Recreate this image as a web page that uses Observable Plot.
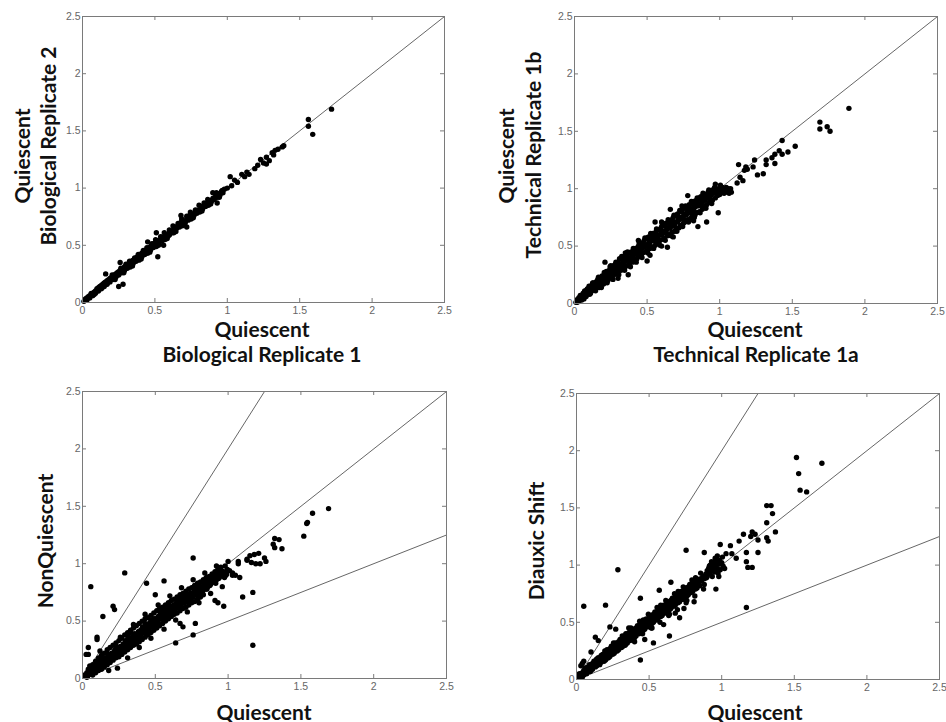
<!DOCTYPE html>
<html><head><meta charset="utf-8">
<script src="https://cdn.jsdelivr.net/npm/d3@7"></script>
<script src="https://cdn.jsdelivr.net/npm/@observablehq/plot@0.6"></script>
<style>
body{margin:0;background:#fff}
#c{position:relative;width:946px;height:722px;overflow:hidden;background:#fff}
.p{position:absolute}
.lab{position:absolute;font-family:Lato,"Open Sans",sans-serif;font-weight:700;font-size:21px;white-space:nowrap;color:#111;transform:translate(-50%,-50%);line-height:1}
.v{transform:translate(-50%,-50%) rotate(-90deg)}
</style></head><body><div id="c"></div>
<script>
// ---------- data ----------
const ticks = [0, 0.5, 1, 1.5, 2, 2.5];
const tickLabels = ["0", "0.5", "1", "1.5", "2", "2.5"];

const slopesTop = [1];
const slopesBottom = [2, 1, 0.5];

const bioRep = [
[0.01,0.01],[0.02,0.02],[0.02,0.03],[0.03,0.02],[0.03,0.04],[0.04,0.04],[0.04,0.05],[0.05,0.04],[0.05,0.06],[0.06,0.06],[0.06,0.08],[0.07,0.06],[0.07,0.08],[0.08,0.09],[0.08,0.07],[0.09,0.10],[0.09,0.08],[0.10,0.11],[0.10,0.12],[0.11,0.10],[0.11,0.13],[0.12,0.12],[0.12,0.14],[0.13,0.12],[0.13,0.15],[0.14,0.14],[0.14,0.16],[0.15,0.14],[0.15,0.17],[0.16,0.16],[0.16,0.18],[0.17,0.16],[0.17,0.19],[0.18,0.18],[0.18,0.20],[0.19,0.18],[0.19,0.21],[0.20,0.20],[0.20,0.22],[0.21,0.20],[0.21,0.23],[0.22,0.22],[0.22,0.24],[0.23,0.22],[0.23,0.25],[0.24,0.24],[0.24,0.26],[0.25,0.24],[0.25,0.27],[0.26,0.26],[0.26,0.28],[0.27,0.26],[0.27,0.29],[0.28,0.28],[0.28,0.30],[0.29,0.28],[0.29,0.31],[0.30,0.30],[0.30,0.32],[0.31,0.30],[0.31,0.33],[0.32,0.32],[0.32,0.34],[0.33,0.32],[0.33,0.35],[0.34,0.34],[0.34,0.36],[0.35,0.34],[0.35,0.37],[0.36,0.36],[0.36,0.38],[0.37,0.36],[0.37,0.39],[0.38,0.38],[0.38,0.40],[0.39,0.38],[0.39,0.41],[0.40,0.40],[0.40,0.42],[0.41,0.40],[0.41,0.43],[0.42,0.42],[0.42,0.44],[0.43,0.42],[0.43,0.45],[0.44,0.44],[0.44,0.46],[0.45,0.44],[0.45,0.47],[0.46,0.46],[0.46,0.48],[0.47,0.46],[0.47,0.49],[0.48,0.48],[0.48,0.50],[0.49,0.48],[0.49,0.51],[0.50,0.50],[0.50,0.52],[0.51,0.50],[0.51,0.53],[0.52,0.52],[0.52,0.54],[0.53,0.52],[0.54,0.55],[0.55,0.54],[0.55,0.57],[0.56,0.56],[0.57,0.58],[0.57,0.56],[0.58,0.59],[0.59,0.58],[0.60,0.61],[0.60,0.59],[0.61,0.62],[0.62,0.61],[0.63,0.64],[0.64,0.63],[0.64,0.66],[0.65,0.65],[0.66,0.67],[0.67,0.66],[0.68,0.70],[0.69,0.68],[0.70,0.71],[0.71,0.70],[0.72,0.73],[0.73,0.72],[0.74,0.76],[0.75,0.74],[0.76,0.77],[0.77,0.76],[0.78,0.80],[0.79,0.78],[0.80,0.81],[0.81,0.80],[0.82,0.84],[0.83,0.82],[0.84,0.85],[0.85,0.84],[0.86,0.87],[0.87,0.86],[0.88,0.89],[0.89,0.88],[0.90,0.91],[0.91,0.90],[0.92,0.94],[0.93,0.92],[0.94,0.95],[0.95,0.94],[0.96,0.97],[0.97,0.96],[0.98,0.99],[1.00,1.00],
[0.16,0.25],[0.25,0.14],[0.28,0.16],[0.26,0.35],[0.52,0.40],[0.51,0.61],[0.45,0.53],[0.56,0.50],[0.68,0.76],[0.72,0.66],[0.90,0.96],[0.93,0.87],
[1.02,1.10],[1.03,1.02],[1.05,1.07],[1.07,1.05],[1.10,1.12],[1.12,1.10],[1.135,1.14],[1.15,1.12],[1.19,1.17],[1.21,1.20],[1.23,1.25],[1.25,1.22],[1.27,1.27],[1.27,1.21],[1.29,1.24],[1.31,1.31],[1.33,1.33],[1.32,1.29],[1.35,1.34],[1.38,1.36],[1.39,1.37],[1.56,1.60],[1.56,1.54],[1.59,1.47],[1.72,1.69]
];
const bioRepDense = [
[0.205,0.24],[0.225,0.20],[0.265,0.30],[0.285,0.26],[0.325,0.36],[0.345,0.32],[0.385,0.42],[0.405,0.38],[0.445,0.48],[0.465,0.44],[0.505,0.55],[0.525,0.50],[0.565,0.61],[0.585,0.56],[0.625,0.67],[0.645,0.62],[0.685,0.73],[0.705,0.68],[0.745,0.79],[0.765,0.74],[0.805,0.85],[0.825,0.80],[0.865,0.90],[0.885,0.86],[0.925,0.96],[0.945,0.92],
[0.115,0.13],[0.135,0.13],[0.155,0.17],[0.175,0.18],[0.195,0.21],[0.245,0.25],[0.305,0.31],[0.365,0.37],[0.425,0.43],[0.485,0.49],[0.545,0.56],[0.605,0.61],[0.665,0.67],[0.725,0.73],[0.785,0.79],[0.845,0.86],[0.905,0.91],[0.965,0.98],
[0.30,0.335],[0.36,0.39],[0.42,0.455],[0.48,0.515],[0.54,0.575],[0.60,0.635],[0.66,0.69],[0.72,0.755],[0.78,0.81],[0.84,0.87],[0.33,0.31],[0.39,0.37],[0.45,0.43],[0.51,0.49],[0.57,0.55],[0.63,0.61],[0.69,0.67],[0.75,0.73],[0.81,0.79],[0.87,0.85]
];

const techRep = [
[0.01,0.01],[0.02,0.03],[0.02,0.01],[0.03,0.05],[0.03,0.02],[0.04,0.04],[0.04,0.07],[0.05,0.03],[0.05,0.06],[0.06,0.09],[0.06,0.05],[0.07,0.07],[0.07,0.11],[0.08,0.06],[0.08,0.09],[0.09,0.13],[0.09,0.08],[0.10,0.10],[0.10,0.15],[0.11,0.09],[0.11,0.12],[0.12,0.16],[0.12,0.11],[0.13,0.13],[0.13,0.18],[0.14,0.12],[0.14,0.15],[0.15,0.19],[0.15,0.14],[0.16,0.17],[0.16,0.21],[0.17,0.14],[0.17,0.19],[0.18,0.22],[0.18,0.16],[0.19,0.20],[0.19,0.24],[0.20,0.17],[0.20,0.22],[0.21,0.26],[0.21,0.36],[0.21,0.19],[0.22,0.23],[0.22,0.28],[0.23,0.20],[0.23,0.25],[0.24,0.29],[0.24,0.22],[0.25,0.26],[0.25,0.31],[0.26,0.23],[0.26,0.28],[0.27,0.33],[0.27,0.25],[0.28,0.29],[0.28,0.34],[0.29,0.26],[0.29,0.31],[0.30,0.36],[0.30,0.28],[0.31,0.32],[0.31,0.39],[0.32,0.29],[0.32,0.34],[0.33,0.38],[0.33,0.31],[0.34,0.36],[0.34,0.41],[0.35,0.32],[0.35,0.37],[0.36,0.42],[0.36,0.33],[0.37,0.38],[0.37,0.25],[0.38,0.44],[0.38,0.35],[0.39,0.40],[0.39,0.45],[0.40,0.36],[0.40,0.41],[0.41,0.47],[0.41,0.38],[0.42,0.43],[0.42,0.48],[0.43,0.39],[0.43,0.44],[0.44,0.50],[0.44,0.41],[0.45,0.46],[0.45,0.51],[0.46,0.42],[0.46,0.47],[0.47,0.53],[0.47,0.44],[0.48,0.49],[0.48,0.55],[0.49,0.45],[0.49,0.50],[0.50,0.57],[0.50,0.46],[0.50,0.37],[0.51,0.52],[0.51,0.58],[0.52,0.48],[0.52,0.53],[0.53,0.59],[0.53,0.49],[0.54,0.55],[0.54,0.61],[0.55,0.50],[0.555,0.71],[0.55,0.56],[0.56,0.62],[0.56,0.52],[0.57,0.58],[0.57,0.64],[0.58,0.53],[0.58,0.59],[0.59,0.65],[0.59,0.55],[0.60,0.60],[0.60,0.67],[0.61,0.56],[0.61,0.62],[0.62,0.68],[0.62,0.57],[0.63,0.63],[0.63,0.70],[0.64,0.49],[0.64,0.59],[0.64,0.65],[0.65,0.72],[0.65,0.60],[0.66,0.82],[0.66,0.66],[0.67,0.73],[0.67,0.62],[0.68,0.68],[0.68,0.75],[0.69,0.63],[0.69,0.70],[0.70,0.77],[0.70,0.65],[0.71,0.71],[0.71,0.78],[0.72,0.66],[0.72,0.73],[0.73,0.80],[0.73,0.68],[0.74,0.74],[0.74,0.81],[0.75,0.70],[0.75,0.76],[0.76,0.83],[0.76,0.71],[0.77,0.77],[0.77,0.84],[0.78,0.94],[0.78,0.73],[0.79,0.79],[0.79,0.86],[0.80,0.74],[0.80,0.80],[0.81,0.87],[0.81,0.76],[0.82,0.82],[0.82,0.89],[0.83,0.77],[0.83,0.84],[0.84,0.90],[0.84,0.79],[0.85,0.67],[0.85,0.85],[0.86,0.92],[0.86,0.80],[0.87,0.87],[0.87,0.93],[0.88,0.82],[0.88,0.88],[0.89,0.94],[0.89,0.84],[0.90,0.90],[0.90,0.95],[0.91,0.71],[0.91,0.86],[0.92,0.92],[0.92,0.97],[0.93,0.88],[0.94,0.94],[0.95,0.99],[0.95,0.90],[0.96,0.96],[0.97,1.04],[0.97,0.92],[0.98,0.97],[0.99,0.79],[0.99,1.00],[1.00,0.95],[1.01,0.98],[1.02,1.01],[1.03,0.96],[1.04,0.99],[1.05,0.97],[1.06,1.00],[1.07,0.98],
[1.12,1.05],[1.13,1.21],[1.14,1.10],[1.16,1.07],[1.17,1.16],[1.18,1.19],[1.19,1.17],[1.23,1.19],[1.24,1.25],[1.26,1.12],[1.30,1.13],[1.32,1.25],[1.32,1.21],[1.36,1.27],[1.38,1.30],[1.38,1.22],[1.41,1.33],[1.43,1.30],[1.43,1.42],[1.47,1.32],[1.52,1.37],[1.69,1.58],[1.69,1.52],[1.74,1.54],[1.76,1.50],[1.89,1.70]
];
const techRepDense = [
[0.015,0.03],[0.025,0.02],[0.035,0.04],[0.045,0.07],[0.055,0.06],[0.065,0.04],[0.075,0.09],[0.085,0.12],[0.095,0.11],[0.105,0.08],[0.115,0.14],[0.125,0.18],[0.135,0.15],[0.145,0.11],[0.155,0.17],[0.165,0.23],[0.175,0.19],[0.185,0.14],[0.195,0.21],[0.205,0.27],[0.215,0.23],[0.225,0.18],[0.235,0.25],[0.245,0.32],[0.255,0.27],[0.265,0.21],[0.275,0.29],[0.285,0.36],[0.295,0.31],[0.305,0.25],[0.315,0.34],[0.325,0.41],[0.335,0.35],[0.345,0.29],[0.355,0.38],[0.365,0.45],[0.375,0.39],[0.385,0.32],[0.395,0.42],[0.405,0.48],[0.415,0.43],[0.425,0.36],[0.435,0.46],[0.445,0.53],[0.455,0.47],[0.465,0.40],[0.475,0.50],[0.485,0.57],[0.495,0.51],[0.505,0.44],[0.515,0.54],[0.525,0.61],[0.535,0.55],[0.545,0.48],[0.555,0.58],[0.565,0.65],[0.575,0.59],[0.585,0.51],[0.595,0.62],[0.605,0.69],[0.615,0.63],[0.625,0.55],[0.635,0.66],[0.645,0.73],[0.655,0.67],[0.665,0.59],[0.675,0.70],[0.685,0.77],[0.695,0.71],[0.705,0.63],[0.715,0.74],[0.725,0.81],[0.735,0.75],[0.745,0.67],[0.755,0.78],[0.765,0.85],[0.775,0.79],[0.785,0.71],[0.795,0.82],[0.805,0.89],[0.815,0.83],[0.825,0.75],[0.835,0.86],[0.845,0.92],[0.855,0.87],[0.865,0.79],[0.875,0.90],[0.885,0.96],[0.895,0.91],[0.905,0.83],[0.915,0.94],[0.925,0.99],[0.935,0.95],[0.945,0.87],[0.955,0.97],[0.965,1.01],[0.985,0.94],[1.005,1.03],[1.025,0.99],[1.045,1.01],[1.065,0.96],[1.075,1.00],[1.08,0.97],
[0.12,0.155],[0.15,0.135],[0.18,0.215],[0.21,0.195],[0.24,0.275],[0.27,0.255],[0.30,0.335],[0.33,0.315],[0.36,0.395],[0.39,0.375],[0.42,0.455],[0.45,0.435],[0.48,0.515],[0.51,0.495],[0.54,0.575],[0.57,0.555],[0.60,0.635],[0.63,0.615],[0.66,0.695],[0.69,0.675],[0.72,0.755],[0.75,0.735],[0.78,0.815],[0.81,0.795],[0.84,0.875],[0.87,0.855],[0.90,0.935],[0.93,0.915],[0.96,0.985],[0.99,0.965],
[0.44,0.55],[0.52,0.42],[0.60,0.71],[0.68,0.58],[0.74,0.85],[0.82,0.72],[0.35,0.44],[0.30,0.22],[0.25,0.33],[0.60,0.50]
];

const nonQuiescent = [
[0.02,0.02],[0.03,0.05],[0.03,0.01],[0.04,0.08],[0.04,0.03],[0.05,0.05],[0.05,0.11],[0.06,0.04],[0.06,0.07],[0.07,0.12],[0.07,0.03],[0.08,0.06],[0.08,0.09],[0.09,0.15],[0.09,0.05],[0.10,0.08],[0.10,0.12],[0.11,0.18],[0.11,0.07],[0.12,0.10],[0.12,0.14],[0.13,0.20],[0.13,0.08],[0.14,0.12],[0.14,0.16],[0.15,0.22],[0.15,0.10],[0.16,0.14],[0.16,0.18],[0.17,0.25],[0.17,0.12],[0.18,0.16],[0.18,0.20],[0.19,0.27],[0.19,0.14],[0.20,0.18],[0.20,0.22],[0.21,0.29],[0.21,0.16],[0.22,0.20],[0.22,0.24],[0.23,0.31],[0.23,0.18],[0.24,0.22],[0.24,0.26],[0.25,0.33],[0.25,0.19],[0.26,0.24],[0.26,0.28],[0.27,0.35],[0.27,0.21],[0.28,0.26],[0.28,0.30],[0.29,0.38],[0.29,0.23],[0.30,0.28],[0.30,0.32],[0.31,0.40],[0.31,0.25],[0.32,0.30],[0.32,0.34],[0.33,0.42],[0.33,0.27],[0.34,0.32],[0.34,0.36],[0.35,0.44],[0.35,0.29],[0.36,0.34],[0.36,0.38],[0.37,0.46],[0.37,0.30],[0.38,0.36],[0.38,0.40],[0.39,0.48],[0.39,0.32],[0.40,0.38],[0.40,0.42],[0.41,0.50],[0.41,0.34],[0.42,0.40],[0.42,0.44],[0.43,0.52],[0.43,0.36],[0.44,0.42],[0.44,0.46],[0.45,0.53],[0.45,0.38],[0.46,0.44],[0.46,0.48],[0.47,0.55],[0.47,0.40],[0.48,0.46],[0.48,0.50],[0.49,0.57],[0.49,0.42],[0.50,0.48],[0.50,0.52],[0.51,0.59],[0.51,0.44],[0.52,0.50],[0.52,0.54],[0.53,0.61],[0.53,0.46],[0.54,0.52],[0.54,0.56],[0.55,0.62],[0.55,0.48],[0.56,0.54],[0.56,0.58],[0.57,0.64],[0.57,0.50],[0.58,0.56],[0.58,0.60],[0.59,0.66],[0.59,0.52],[0.60,0.58],[0.60,0.62],[0.61,0.68],[0.61,0.54],[0.62,0.60],[0.62,0.63],[0.63,0.69],[0.63,0.56],[0.64,0.61],[0.64,0.65],[0.65,0.71],[0.65,0.57],[0.66,0.63],[0.66,0.67],[0.67,0.73],[0.67,0.59],[0.68,0.65],[0.68,0.69],[0.69,0.74],[0.69,0.61],[0.70,0.66],[0.70,0.70],[0.71,0.76],[0.71,0.62],[0.72,0.68],[0.72,0.72],[0.73,0.78],[0.73,0.64],[0.74,0.70],[0.74,0.74],[0.75,0.79],[0.75,0.66],[0.76,0.71],[0.76,0.75],[0.77,0.81],[0.77,0.67],[0.78,0.73],[0.78,0.77],[0.79,0.83],[0.79,0.69],[0.80,0.75],[0.80,0.79],[0.81,0.84],[0.81,0.71],[0.82,0.77],[0.82,0.80],[0.83,0.86],[0.83,0.73],[0.84,0.78],[0.84,0.82],[0.85,0.88],[0.86,0.80],[0.86,0.84],[0.87,0.89],[0.88,0.82],[0.88,0.86],[0.89,0.91],[0.90,0.84],[0.90,0.88],[0.91,0.93],[0.92,0.86],[0.92,0.90],[0.93,0.95],[0.94,0.88],[0.94,0.92],[0.95,0.97],[0.96,0.90],[0.97,0.93],[0.98,0.98],[0.99,0.91],[1.00,1.02],[1.01,0.94],[1.03,0.92],[1.05,0.90],
[0.057,0.80],[0.29,0.92],[0.76,1.05],[0.21,0.63],[0.22,0.60],[0.14,0.54],[0.10,0.36],[0.10,0.34],[0.04,0.27],[0.025,0.21],[0.04,0.21],[0.24,0.09],[0.44,0.83],[0.50,0.73],[0.56,0.85],[0.64,0.31],[0.76,0.38],[0.775,0.48],[0.69,0.45],[0.67,0.48],[0.91,0.68],[0.93,0.66],[0.97,0.63],[1.10,0.71],[1.17,0.75],[1.17,0.29],[0.45,0.40],
[1.07,1.00],[1.07,1.02],[1.13,1.04],[1.15,1.07],[1.18,1.08],[1.21,1.09],[1.25,1.05],[1.26,1.02],[1.19,1.00],[1.22,1.00],[1.16,1.01],[1.13,1.03],[1.03,0.90],[1.08,0.88],[1.31,1.17],[1.32,1.14],[1.32,1.22],[1.35,1.21],[1.37,1.13],[1.52,1.24],[1.54,1.35],[1.545,1.36],[1.58,1.44],[1.69,1.48]
];
const nonQuiescentDense = [
[0.015,0.03],[0.035,0.02],[0.055,0.08],[0.075,0.06],[0.095,0.07],[0.115,0.15],[0.135,0.11],[0.155,0.13],[0.175,0.21],[0.195,0.16],[0.215,0.19],[0.235,0.27],[0.255,0.22],[0.275,0.25],[0.295,0.33],[0.315,0.28],[0.335,0.31],[0.355,0.39],[0.375,0.34],[0.395,0.37],[0.415,0.45],[0.435,0.40],[0.455,0.43],[0.475,0.51],[0.495,0.46],[0.515,0.49],[0.535,0.57],[0.555,0.52],[0.575,0.55],[0.595,0.63],[0.615,0.58],[0.635,0.60],[0.655,0.69],[0.675,0.63],[0.695,0.66],[0.715,0.74],[0.735,0.68],[0.755,0.71],[0.775,0.79],[0.795,0.73],[0.815,0.76],[0.835,0.84],[0.855,0.78],[0.875,0.81],[0.895,0.89],[0.915,0.83],[0.935,0.87],[0.955,0.94],[0.975,0.88],[0.995,0.95],
[0.12,0.24],[0.18,0.07],[0.26,0.36],[0.31,0.18],[0.35,0.47],[0.39,0.27],[0.43,0.56],[0.47,0.35],[0.52,0.64],[0.56,0.43],[0.60,0.72],[0.64,0.51],[0.68,0.79],[0.72,0.58],[0.76,0.86],[0.80,0.66],[0.84,0.92],[0.88,0.74],[0.92,0.98],[0.96,0.80],[0.33,0.40],[0.37,0.36],[0.41,0.44],[0.45,0.47],[0.49,0.52],[0.53,0.53],[0.57,0.60],[0.61,0.61],[0.65,0.66],[0.69,0.70],[0.73,0.73],[0.77,0.76],[0.81,0.80],[0.85,0.84],[0.89,0.87],
[0.105,0.10],[0.145,0.17],[0.185,0.17],[0.225,0.25],[0.265,0.25],[0.305,0.33],[0.345,0.32],[0.385,0.41],[0.425,0.40],[0.465,0.49],[0.505,0.47],[0.545,0.57],[0.585,0.54],[0.625,0.64],[0.665,0.62],[0.705,0.71],[0.745,0.69],[0.785,0.78],[0.825,0.76],[0.865,0.86],[0.905,0.84],[0.945,0.93],[0.985,0.90],[0.31,0.37],[0.43,0.48],[0.55,0.59],[0.67,0.70],[0.79,0.81],[0.91,0.91],[0.37,0.32],[0.49,0.44],[0.61,0.57],[0.73,0.67],[0.85,0.78]
];

const diauxicShift = [
[0.02,0.02],[0.02,0.05],[0.03,0.03],[0.04,0.06],[0.04,0.02],[0.05,0.04],[0.05,0.08],[0.06,0.06],[0.06,0.10],[0.07,0.05],[0.07,0.08],[0.08,0.11],[0.08,0.07],[0.09,0.09],[0.09,0.13],[0.10,0.08],[0.10,0.11],[0.11,0.14],[0.11,0.09],[0.12,0.12],[0.12,0.16],[0.13,0.11],[0.13,0.14],[0.14,0.18],[0.14,0.12],[0.15,0.15],[0.15,0.19],[0.16,0.13],[0.16,0.17],[0.17,0.21],[0.17,0.15],[0.18,0.18],[0.18,0.22],[0.19,0.16],[0.19,0.20],[0.20,0.24],[0.20,0.17],[0.21,0.21],[0.21,0.26],[0.22,0.19],[0.22,0.23],[0.23,0.27],[0.23,0.20],[0.24,0.24],[0.24,0.29],[0.25,0.22],[0.25,0.26],[0.26,0.30],[0.26,0.23],[0.27,0.27],[0.27,0.32],[0.28,0.25],[0.28,0.29],[0.29,0.33],[0.29,0.26],[0.30,0.30],[0.30,0.35],[0.31,0.28],[0.31,0.32],[0.32,0.36],[0.32,0.29],[0.33,0.33],[0.33,0.38],[0.34,0.31],[0.34,0.35],[0.35,0.39],[0.35,0.32],[0.36,0.36],[0.36,0.41],[0.37,0.34],[0.37,0.38],[0.38,0.42],[0.38,0.35],[0.39,0.39],[0.39,0.44],[0.40,0.37],[0.40,0.41],[0.41,0.45],[0.41,0.38],[0.42,0.42],[0.42,0.47],[0.43,0.40],[0.43,0.44],[0.44,0.48],[0.44,0.41],[0.45,0.45],[0.45,0.50],[0.46,0.43],[0.46,0.47],[0.47,0.51],[0.47,0.44],[0.48,0.48],[0.48,0.53],[0.49,0.46],[0.49,0.50],[0.50,0.54],[0.50,0.47],[0.51,0.51],[0.51,0.56],[0.52,0.49],[0.52,0.53],[0.53,0.57],[0.53,0.50],[0.54,0.54],[0.54,0.59],[0.55,0.52],[0.55,0.56],[0.56,0.60],[0.56,0.53],[0.57,0.57],[0.57,0.62],[0.58,0.55],[0.58,0.59],[0.59,0.63],[0.59,0.56],[0.60,0.60],[0.60,0.65],[0.61,0.58],[0.61,0.62],[0.62,0.66],[0.62,0.59],[0.63,0.63],[0.63,0.68],[0.64,0.61],[0.64,0.65],[0.65,0.69],[0.65,0.62],[0.66,0.66],[0.66,0.71],[0.67,0.64],[0.67,0.68],[0.68,0.72],[0.68,0.65],[0.69,0.69],[0.69,0.74],[0.70,0.67],[0.70,0.71],[0.71,0.75],[0.71,0.68],[0.72,0.72],[0.72,0.77],[0.73,0.70],[0.73,0.74],[0.74,0.78],[0.74,0.71],[0.75,0.75],[0.75,0.80],[0.76,0.73],[0.76,0.77],[0.77,0.81],[0.77,0.74],[0.78,0.78],[0.78,0.83],[0.79,0.76],[0.79,0.80],[0.80,0.84],[0.80,0.77],[0.81,0.81],[0.81,0.86],[0.82,0.79],[0.82,0.83],[0.83,0.87],[0.83,0.80],[0.84,0.84],[0.85,0.88],[0.85,0.82],[0.86,0.86],[0.87,0.90],[0.88,0.88],[0.89,0.92],[0.90,0.95],[0.90,0.90],[0.91,0.97],[0.92,0.93],[0.92,1.00],[0.93,0.96],[0.94,1.02],[0.94,0.98],[0.95,0.94],[0.96,1.00],[0.96,1.04],[0.97,0.97],[0.98,1.01],[0.99,0.96],[1.00,1.02],[1.01,0.99],
[0.05,0.64],[0.20,0.65],[0.285,0.96],[0.44,0.71],[0.755,1.13],[0.88,1.11],[0.44,0.17],[0.64,0.38],[0.53,0.32],[0.03,0.12],[0.05,0.16],[0.04,0.14],[0.13,0.37],[0.15,0.34],[0.10,0.24],[0.23,0.46],[0.27,0.44],[0.36,0.45],[0.57,0.78],[0.65,0.85],[0.68,0.58],[0.71,0.54],[0.74,0.62],[0.96,0.79],[0.98,0.90],[0.81,0.68],[0.47,0.35],[0.60,0.48],
[0.99,1.18],[1.03,1.10],[1.06,1.17],[1.07,1.10],[1.10,1.06],[1.12,1.21],[1.15,1.27],[1.17,1.11],[1.17,1.03],[1.18,0.98],[1.21,0.98],[1.20,1.25],[1.21,1.29],[1.23,1.27],[1.25,1.22],[1.25,1.11],[1.31,1.24],[1.32,1.21],[1.31,1.37],[1.31,1.52],[1.34,1.52],[1.35,1.45],[1.37,1.29],[1.17,0.63],[1.515,1.94],[1.69,1.89],[1.53,1.80],[1.54,1.655],[1.585,1.64]
];
const diauxicShiftDense = [
[0.015,0.04],[0.035,0.05],[0.055,0.05],[0.075,0.10],[0.095,0.07],[0.115,0.12],[0.135,0.17],[0.155,0.14],[0.175,0.18],[0.195,0.25],[0.215,0.19],[0.235,0.24],[0.255,0.32],[0.275,0.25],[0.295,0.30],[0.315,0.38],[0.335,0.30],[0.355,0.36],[0.375,0.45],[0.395,0.35],[0.415,0.42],[0.435,0.51],[0.455,0.40],[0.475,0.48],[0.495,0.57],[0.515,0.45],[0.535,0.54],[0.555,0.63],[0.575,0.50],[0.595,0.60],[0.615,0.69],[0.635,0.56],[0.655,0.66],[0.675,0.75],[0.695,0.61],[0.715,0.72],[0.735,0.81],[0.755,0.67],[0.775,0.78],[0.795,0.87],[0.815,0.73],[0.835,0.84],[0.855,0.93],[0.875,0.79],[0.895,0.89],[0.915,0.99],[0.935,0.90],[0.955,1.06],[0.975,0.93],[0.985,1.04],[1.005,1.07],[1.02,0.97],[0.93,1.03],[0.97,1.08],
[0.105,0.10],[0.145,0.16],[0.185,0.19],[0.225,0.22],[0.265,0.28],[0.305,0.31],[0.345,0.33],[0.385,0.40],[0.425,0.43],[0.465,0.45],[0.505,0.52],[0.545,0.55],[0.585,0.57],[0.625,0.64],[0.665,0.67],[0.705,0.69],[0.745,0.76],[0.785,0.79],[0.825,0.81],[0.865,0.88],[0.905,0.92],[0.945,0.96],[0.34,0.40],[0.46,0.52],[0.58,0.65],[0.70,0.77],[0.82,0.89],[0.40,0.33],[0.52,0.45],[0.64,0.57],[0.76,0.69],[0.88,0.83]
];

// ---------- layout ----------
const M = {l: 40, r: 12, t: 10, b: 20};
const panels = [
  {data: bioRep.concat(bioRepDense), slopes: slopesTop, left: 82, top: 16, w: 362, h: 286},
  {data: techRep.concat(techRepDense), slopes: slopesTop, left: 574, top: 16, w: 363, h: 287},
  {data: nonQuiescent.concat(nonQuiescentDense), slopes: slopesBottom, left: 82, top: 391, w: 364, h: 287},
  {data: diauxicShift.concat(diauxicShiftDense), slopes: slopesBottom, left: 576, top: 393, w: 363, h: 286}
];
const labels = [
  {t: "Quiescent", x: 262, y: 328},
  {t: "Biological Replicate 1", x: 262, y: 353},
  {t: "Quiescent", x: 21, y: 156, v: true},
  {t: "Biological Replicate 2", x: 47, y: 146, v: true},
  {t: "Quiescent", x: 755, y: 328},
  {t: "Technical Replicate 1a", x: 756, y: 353},
  {t: "Quiescent", x: 505, y: 156, v: true},
  {t: "Technical Replicate 1b", x: 532, y: 155, v: true},
  {t: "NonQuiescent", x: 44, y: 541, v: true},
  {t: "Quiescent", x: 264, y: 711},
  {t: "Diauxic Shift", x: 535, y: 541, v: true},
  {t: "Quiescent", x: 755, y: 711}
];

const root = document.getElementById("c");
const fmt = d => tickLabels[ticks.indexOf(d)];
const edge = "#7a7a7a";

for (const p of panels) {
  const pts = p.data.map(([x, y]) => ({x, y}));
  const svg = Plot.plot({
    width: p.w + M.l + M.r,
    height: p.h + M.t + M.b,
    marginLeft: M.l, marginRight: M.r, marginTop: M.t, marginBottom: M.b,
    x: {domain: [0, 2.5]},
    y: {domain: [0, 2.5]},
    style: {fontFamily: "'Liberation Sans', Arial, sans-serif", fontSize: "10.5px", color: "#666", background: "transparent", overflow: "visible"},
    marks: [
      Plot.link(p.slopes, {x1: () => 0, y1: () => 0, x2: s => Math.min(2.5, 2.5 / s), y2: s => Math.min(2.5, 2.5 * s), stroke: "#555", strokeWidth: 0.9}),
      Plot.dot(pts, {x: "x", y: "y", r: 2.7, fill: "#000", stroke: "none"}),
      Plot.frame({stroke: edge}),
      Plot.tickX(ticks, {x: d => d, insetTop: p.h - 4, stroke: edge}),
      Plot.tickX(ticks, {x: d => d, insetBottom: p.h - 4, stroke: edge}),
      Plot.tickY(ticks, {y: d => d, insetRight: p.w - 4, stroke: edge}),
      Plot.tickY(ticks, {y: d => d, insetLeft: p.w - 4, stroke: edge}),
      Plot.axisX(ticks, {tickSize: 0, tickPadding: 4, tickFormat: fmt, label: null}),
      Plot.axisY(ticks, {tickSize: 0, tickPadding: 2, tickFormat: fmt, label: null})
    ]
  });
  svg.classList.add("p");
  svg.style.left = (p.left - M.l) + "px";
  svg.style.top = (p.top - M.t) + "px";
  root.appendChild(svg);
}

for (const L of labels) {
  const d = document.createElement("div");
  d.className = "lab" + (L.v ? " v" : "");
  d.textContent = L.t;
  d.style.left = L.x + "px";
  d.style.top = L.y + "px";
  root.appendChild(d);
}
</script></body></html>
